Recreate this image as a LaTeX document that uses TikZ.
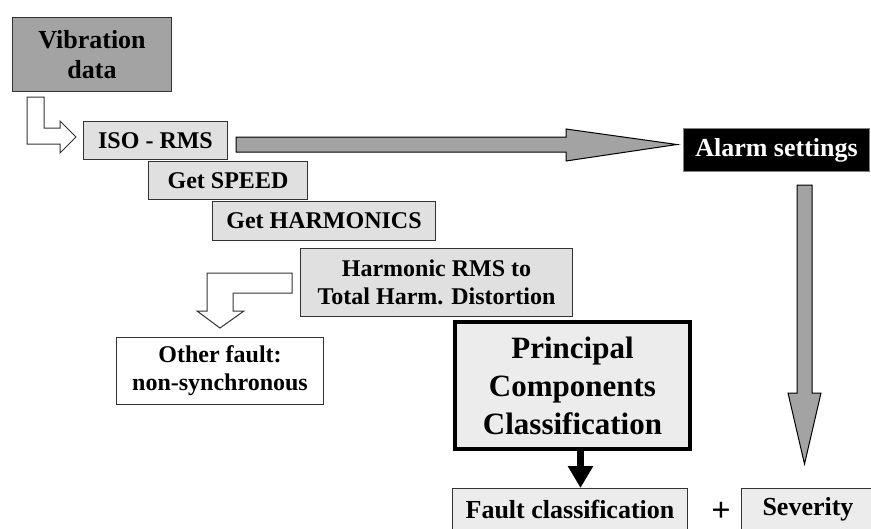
\documentclass[tikz,border=0pt]{standalone}
\usepackage{fontspec}
\setmainfont{Liberation Serif}
\usetikzlibrary{arrows.meta}
\definecolor{dgray}{HTML}{A3A3A3}
\definecolor{lgray}{HTML}{E0E0E0}
\definecolor{pgray}{HTML}{ECECEC}
\definecolor{edgec}{HTML}{333333}
\begin{document}
\begin{tikzpicture}[x=1pt,y=-1pt,
  box/.style={draw=edgec, line width=1pt, inner sep=0pt, align=center, text=black,
    font=\bfseries\fontsize{24}{28}\selectfont},
  bigfont/.style={font=\bfseries\fontsize{26}{30}\selectfont},
  grayarrow/.style={fill=dgray, draw=black, line width=1pt, line join=miter},
  hollowarrow/.style={fill=white, draw=edgec, line width=1pt, line join=miter}]
\useasboundingbox (0,0) rectangle (871,528);

% boxes
\node[box, bigfont, fill=dgray, minimum width=159, minimum height=74] (vib) at (92,54.5) {Vibration\\data};
\node[box, fill=lgray, minimum width=144, minimum height=38] (iso) at (155.5,140.5) {ISO - RMS};
\node[box, fill=lgray, minimum width=159, minimum height=38] (speed) at (228,180.5) {Get SPEED};
\node[box, fill=lgray, minimum width=223, minimum height=39] (harm) at (324,221) {Get HARMONICS};
\node[box, fill=lgray, minimum width=272, minimum height=68] (hrms) at (436.5,282.5) {Harmonic RMS to\\Total Harm. Distortion};
\node[box, bigfont, fill=black, draw=gray, text=white, minimum width=186, minimum height=43] (alarm) at (776.5,150) {Alarm settings};
\node[box, fill=white, minimum width=207, minimum height=67] (other) at (220,370.5) {Other fault:\\non-synchronous};
\node[draw=black, line width=3.5pt, fill=pgray, minimum width=235.5, minimum height=127.5, inner sep=0pt,
  align=center, font=\bfseries\fontsize{31}{38}\selectfont] (pcc) at (572.5,385.5) {Principal\\Components\\Classification};
\draw[black, line width=0.8pt] ([xshift=3.2pt,yshift=-3.2pt]pcc.north west) rectangle ([xshift=-3.2pt,yshift=3.2pt]pcc.south east);
\node[box, bigfont, fill=pgray, minimum width=235, minimum height=41] (fault) at (570,509) {Fault classification};
\node[box, bigfont, fill=pgray, minimum width=133, minimum height=41] (sev) at (808,509) {Severity};
\node[font=\bfseries\fontsize{34}{38}\selectfont, inner sep=0pt] (plus) at (721,512) {+};

% arrows
\draw[hollowarrow] (27,97) -- (44,97) -- (44,128) -- (60,128) -- (60,121) -- (76,137) -- (60,153) -- (60,144) -- (27,144) -- cycle;
\draw[hollowarrow] (292,273) -- (207,273) -- (207,311) -- (197,311) -- (220,328) -- (244,311) -- (233,311) -- (233,293) -- (292,293) -- cycle;
\draw[grayarrow] (236,137) -- (566,137) -- (566,129) -- (677,144.5) -- (566,161) -- (566,152) -- (236,152) -- cycle;
\draw[grayarrow] (797,185) -- (812,185) -- (812,393) -- (821,393) -- (804.5,464) -- (788,393) -- (797,393) -- cycle;
\draw[black, line width=7pt, -{Triangle[width=24pt,length=22pt]}] ([xshift=8pt]pcc.south) -- ([xshift=8pt]pcc.south |- fault.north);
\end{tikzpicture}
\end{document}
